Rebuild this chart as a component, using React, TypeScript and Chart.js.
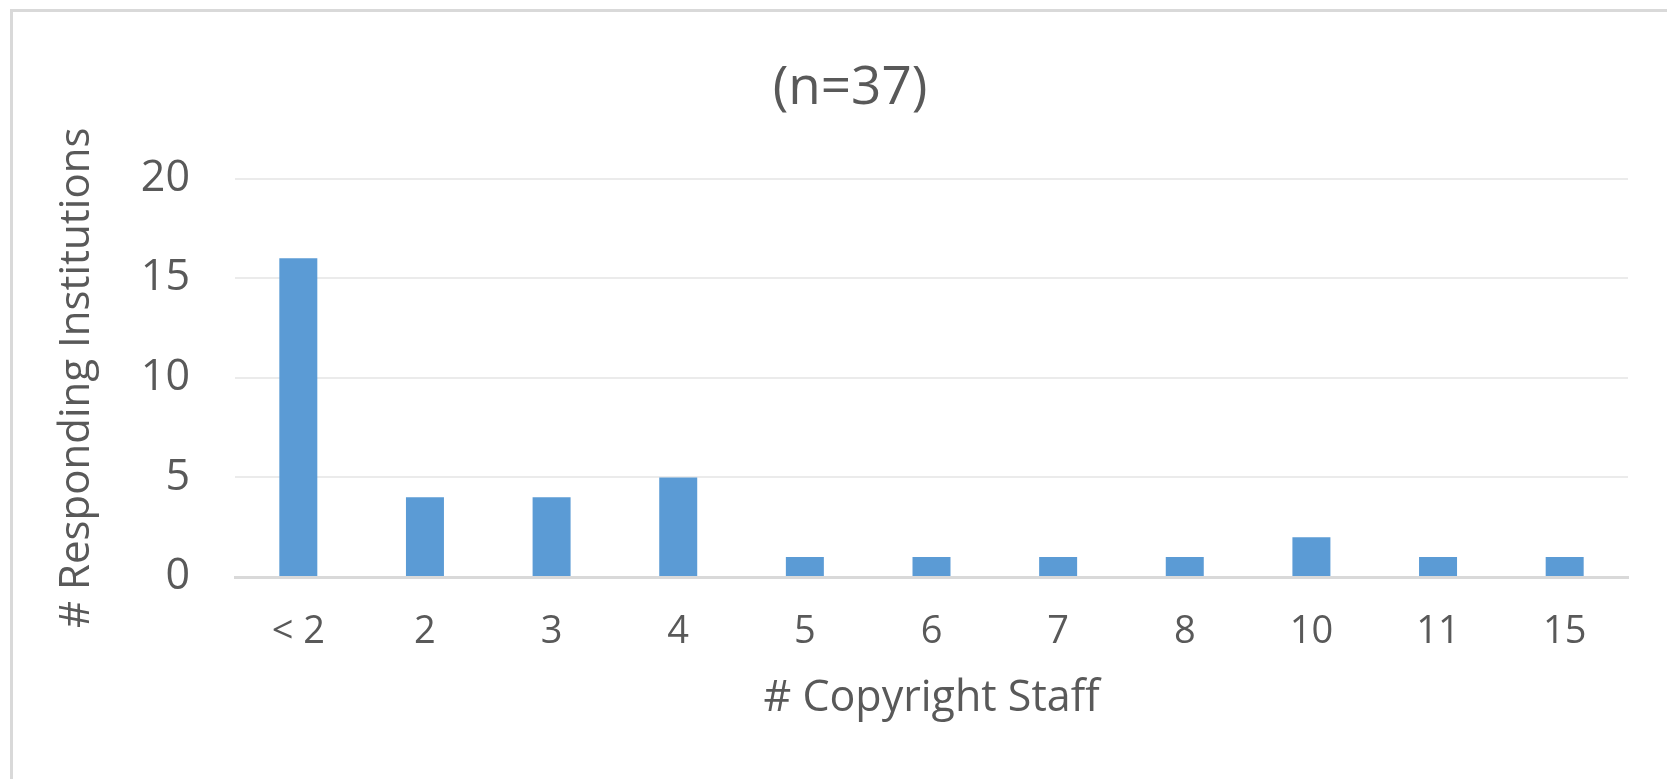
import React, { useEffect, useRef } from "react";
import { Chart, registerables } from "chart.js";

Chart.register(...registerables);

const categories = ["< 2", "2", "3", "4", "5", "6", "7", "8", "10", "11", "15"];
const institutions = [16, 4, 4, 5, 1, 1, 1, 1, 2, 1, 1];
const yTicks = [0, 5, 10, 15, 20];
const chartTitle = "(n=37)";
const xTitle = "# Copyright Staff";
const yTitle = "# Responding Institutions";

const W = 1667;
const H = 779;
const FONT = "'Open Sans', 'Noto Sans', sans-serif";
const TEXT = "#595959";

export default function App() {
  const ref = useRef<HTMLCanvasElement>(null);

  useEffect(() => {
    const chart = new Chart(ref.current as HTMLCanvasElement, {
      type: "bar",
      data: {
        labels: categories,
        datasets: [
          {
            label: "Responding Institutions",
            data: institutions,
            backgroundColor: "#5b9bd5",
            borderWidth: 0,
            categoryPercentage: 1,
            barPercentage: 0.3,
          },
        ],
      },
      options: {
        responsive: false,
        animation: false,
        devicePixelRatio: 1,
        layout: { padding: { left: 72, right: 39, top: 0, bottom: 0 } },
        plugins: {
          legend: { display: false },
          tooltip: { enabled: false },
          title: {
            display: true,
            text: chartTitle,
            color: TEXT,
            font: { family: FONT, size: 53, weight: "normal", lineHeight: 1.2 },
            padding: { top: 57, bottom: 58 },
          },
        },
        scales: {
          x: {
            grid: { display: false, drawTicks: false },
            border: { display: true, color: "#d9d9d9", width: 3 },
            ticks: {
              color: TEXT,
              font: { family: FONT, size: 38 },
              padding: 32,
              maxRotation: 0,
              autoSkip: false,
            },
            title: {
              display: true,
              text: xTitle,
              color: TEXT,
              font: { family: FONT, size: 43, lineHeight: 1.2 },
              padding: { top: 0, bottom: 54 },
            },
            afterFit: (s: any) => {
              s.height = 202;
            },
          },
          y: {
            min: 0,
            max: 20,
            afterBuildTicks: (s: any) => {
              s.ticks = yTicks.map((v) => ({ value: v }));
            },
            grid: { color: "#ebebeb", lineWidth: 2, drawTicks: false },
            border: { display: false },
            ticks: {
              color: TEXT,
              font: { family: FONT, size: 43 },
              padding: 45,
            },
            title: {
              display: true,
              text: yTitle,
              color: TEXT,
              font: { family: FONT, size: 42, lineHeight: 1.2 },
              padding: { top: -20, bottom: 0 },
            },
            afterFit: (s: any) => {
              s.width = 163;
            },
          },
        },
      },
    });
    return () => chart.destroy();
  }, []);

  return (
    <div
      style={{
        position: "absolute",
        left: 0,
        top: 0,
        width: W,
        height: H,
        overflow: "hidden",
        background: "#ffffff",
      }}
    >
      <canvas
        ref={ref}
        width={W}
        height={H}
        style={{ position: "absolute", left: 0, top: 0, width: W, height: H }}
      />
      <div
        style={{
          position: "absolute",
          left: 10,
          top: 9,
          width: W,
          height: H + 20,
          borderTop: "3px solid #d9d9d9",
          borderLeft: "3px solid #d9d9d9",
          pointerEvents: "none",
        }}
      />
    </div>
  );
}
